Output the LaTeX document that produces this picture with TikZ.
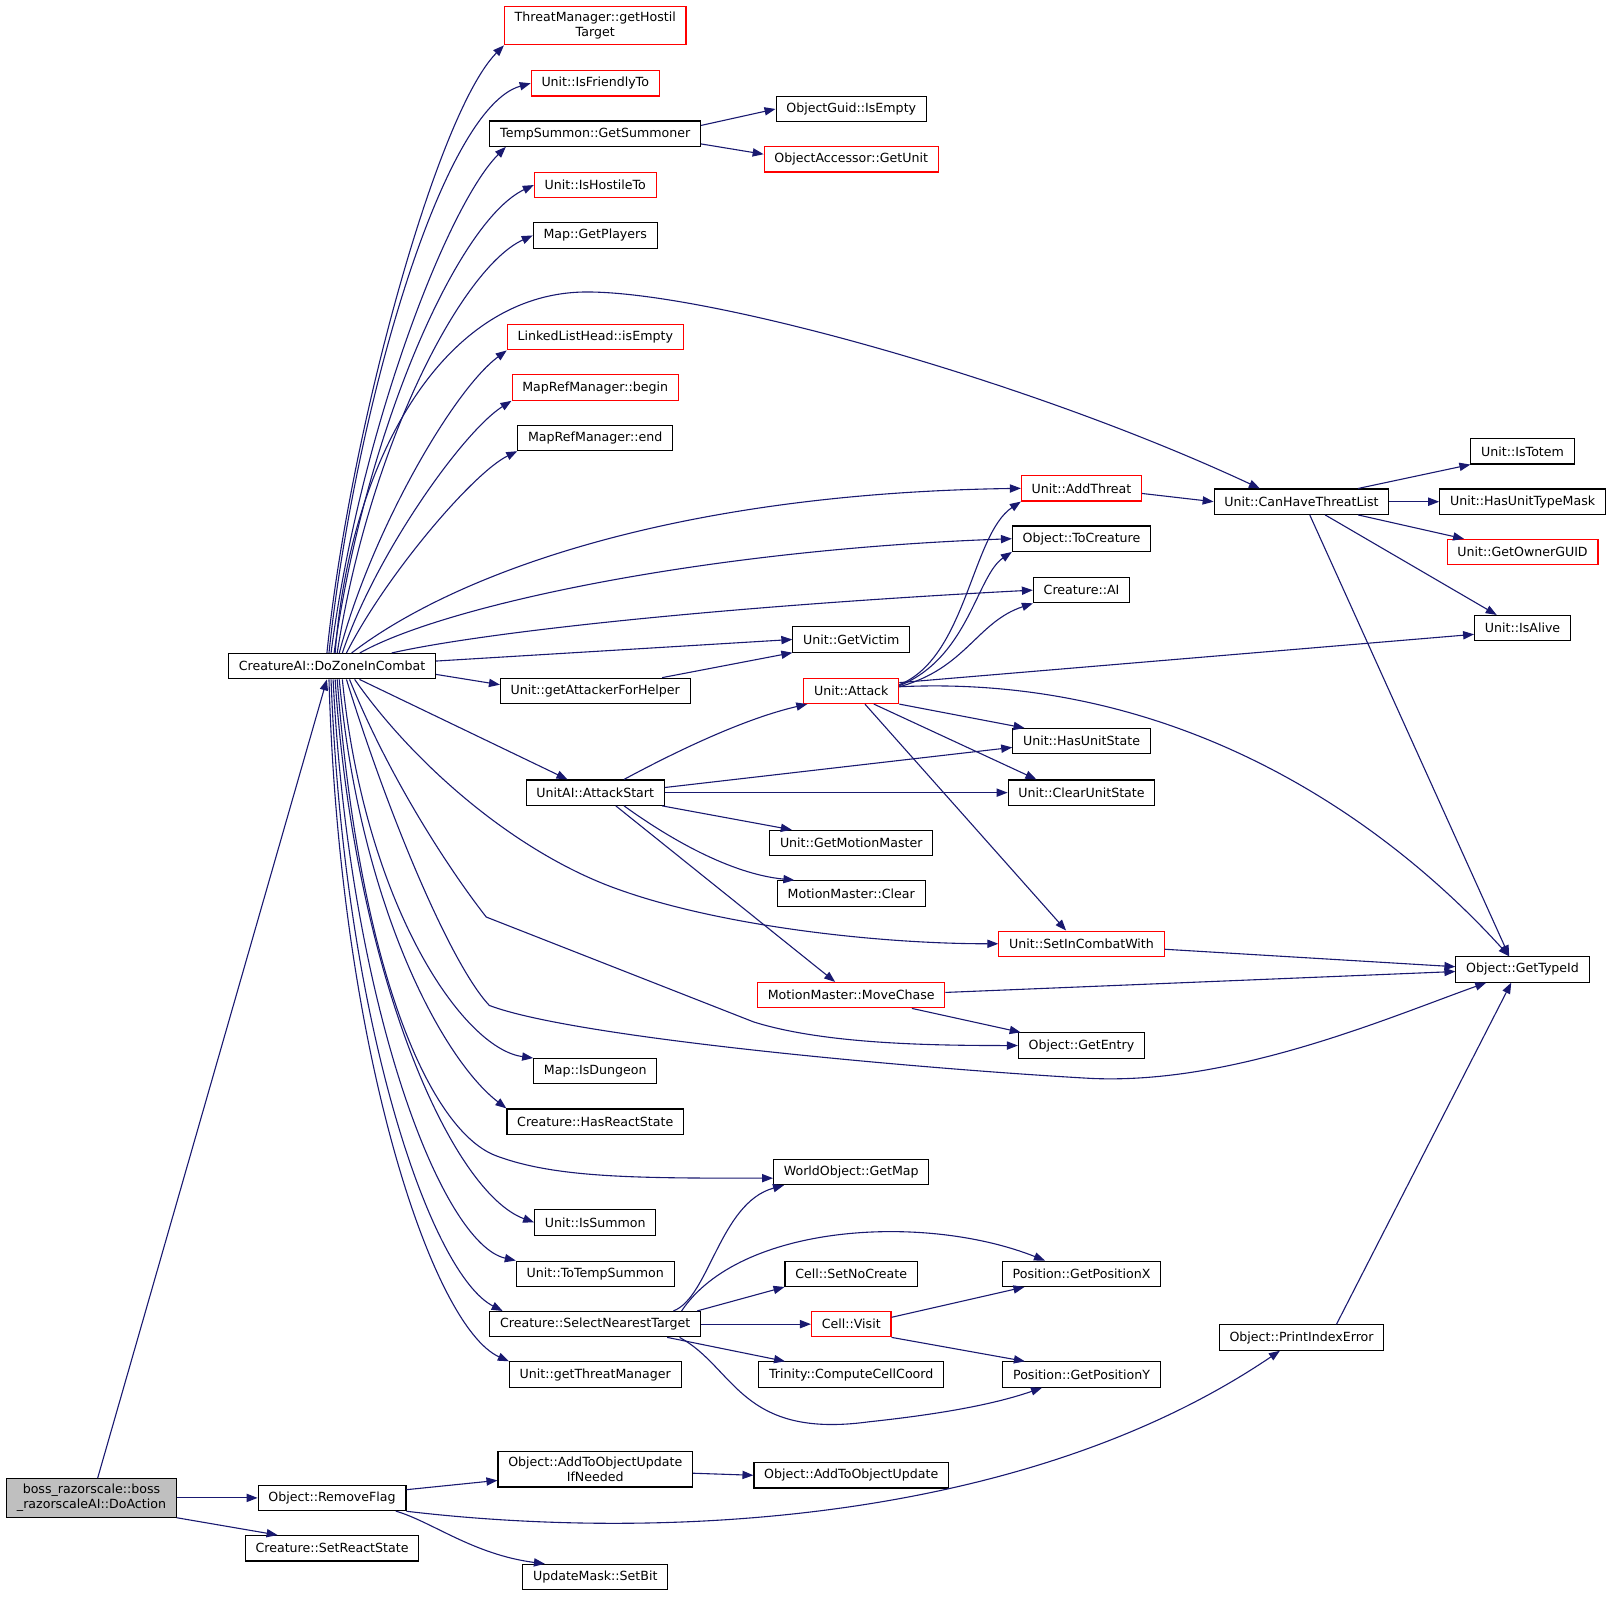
\documentclass[tikz,border=0pt]{standalone}
\usepackage{fontspec}
\setmainfont{DejaVu Sans}
\usetikzlibrary{arrows.meta}
\definecolor{midnight}{HTML}{191970}
\definecolor{rootgray}{HTML}{BFBFBF}

\begin{document}
\begin{tikzpicture}[x=0.75pt, y=-0.75pt,
    fn/.style={draw=black, fill=white, line width=0.8pt, font=\fontsize{9.2}{11}\selectfont,
        minimum height=18.5pt, inner xsep=7.5pt, inner ysep=4pt, align=center},
    fnred/.style={fn, draw=red},
    fnroot/.style={fn, fill=rootgray},
    call/.style={draw=midnight, line width=0.8pt, -{Triangle[length=8pt,width=6pt]}}]

    % Canvas
    \path[fill=white] (0,0) rectangle (1568,1554);

    % Root and first level
    \node[fnroot] (boss) at (89,1457) {boss\_razorscale::boss\\\_razorscaleAI::DoAction};
    \node[fn] (rf) at (323,1457) {Object::RemoveFlag};
    \node[fn] (srs) at (323,1506) {Creature::SetReactState};
    \node[fn] (dz) at (323,648) {CreatureAI::DoZoneInCombat};

    % Second column
    \node[fnred] (ght) at (579,25) {ThreatManager::getHostil\\Target};
    \node[fnred] (ift) at (579,81) {Unit::IsFriendlyTo};
    \node[fn] (gs) at (579,130) {TempSummon::GetSummoner};
    \node[fnred] (iht) at (579,180) {Unit::IsHostileTo};
    \node[fn] (gp) at (579,229) {Map::GetPlayers};
    \node[fnred] (lle) at (579,328) {LinkedListHead::isEmpty};
    \node[fnred] (mrb) at (579,377) {MapRefManager::begin};
    \node[fn] (mre) at (579,426) {MapRefManager::end};
    \node[fn] (gafh) at (579,672) {Unit::getAttackerForHelper};
    \node[fn] (ast) at (579,771) {UnitAI::AttackStart};
    \node[fn] (isd) at (579,1042) {Map::IsDungeon};
    \node[fn] (hrs) at (579,1091) {Creature::HasReactState};
    \node[fn] (ism) at (579,1189) {Unit::IsSummon};
    \node[fn] (tts) at (579,1239) {Unit::ToTempSummon};
    \node[fn] (snt) at (579,1288) {Creature::SelectNearestTarget};
    \node[fn] (gtm) at (579,1337) {Unit::getThreatManager};
    \node[fn] (aou) at (579,1429) {Object::AddToObjectUpdate\\IfNeeded};
    \node[fn] (sb) at (579,1534) {UpdateMask::SetBit};

    % Third column
    \node[fn] (oge) at (828,106) {ObjectGuid::IsEmpty};
    \node[fnred] (ogu) at (828,155) {ObjectAccessor::GetUnit};
    \node[fn] (gv) at (828,622) {Unit::GetVictim};
    \node[fnred] (att) at (828,672) {Unit::Attack};
    \node[fn] (gmm) at (828,820) {Unit::GetMotionMaster};
    \node[fn] (mmc) at (828,869) {MotionMaster::Clear};
    \node[fnred] (mmch) at (828,968) {MotionMaster::MoveChase};
    \node[fn] (wgm) at (828,1140) {WorldObject::GetMap};
    \node[fn] (snc) at (828,1239) {Cell::SetNoCreate};
    \node[fnred] (cv) at (828,1288) {Cell::Visit};
    \node[fn] (tcc) at (828,1337) {Trinity::ComputeCellCoord};
    \node[fn] (aoup) at (828,1435) {Object::AddToObjectUpdate};

    % Fourth column
    \node[fnred] (adt) at (1052,475) {Unit::AddThreat};
    \node[fn] (tc) at (1052,524) {Object::ToCreature};
    \node[fn] (ai) at (1052,574) {Creature::AI};
    \node[fn] (hus) at (1052,721) {Unit::HasUnitState};
    \node[fn] (cus) at (1052,771) {Unit::ClearUnitState};
    \node[fnred] (sicw) at (1052,918) {Unit::SetInCombatWith};
    \node[fn] (ge) at (1052,1017) {Object::GetEntry};
    \node[fn] (gpx) at (1052,1239) {Position::GetPositionX};
    \node[fn] (gpy) at (1052,1337) {Position::GetPositionY};

    % Fifth and last column
    \node[fn] (chtl) at (1266,488) {Unit::CanHaveThreatList};
    \node[fn] (pie) at (1266,1301) {Object::PrintIndexError};
    \node[fn] (ist) at (1481,439) {Unit::IsTotem};
    \node[fn] (hutm) at (1481,488) {Unit::HasUnitTypeMask};
    \node[fnred] (gog) at (1481,537) {Unit::GetOwnerGUID};
    \node[fn] (isa) at (1481,611) {Unit::IsAlive};
    \node[fn] (git) at (1481,943) {Object::GetTypeId};

    % Calls of the root
    \draw[call] ([xshift=4.5pt]boss.north) -- ([xshift=-3.75pt]dz.south);
    \draw[call] (boss.east) -- (rf.west);
    \draw[call] (boss.south east) -- ([xshift=-39.75pt]srs.north);

    % Calls of RemoveFlag
    \draw[call] ([yshift=6pt]rf.east) -- ([yshift=-8.25pt]aou.west);
    \draw[call] ([xshift=46.5pt]rf.south) .. controls (420,1480) and (460,1512) .. ([xshift=-36.75pt]sb.north);
    \draw[call] ([yshift=-9.75pt]rf.east) .. controls (650,1500) and (1000,1480) .. ([xshift=-15.75pt]pie.south);
    \draw[call] ([yshift=-3pt]aou.east) -- (aoup.west);
    \draw[call] ([xshift=25.5pt]pie.north) -- ([xshift=-8.25pt]git.south);

    % Calls of DoZoneInCombat, upwards
    \draw[call] ([xshift=-3.75pt]dz.north) .. controls (340,420) and (425,110) .. (ght.south west);
    \draw[call] ([xshift=-2.25pt]dz.north) .. controls (345,400) and (430,105) .. (ift.west);
    \draw[call] ([xshift=-0.75pt]dz.north) .. controls (350,420) and (435,200) .. ([xshift=12pt]gs.south west);
    \draw[call] ([xshift=1.5pt]dz.north) .. controls (355,420) and (445,215) .. (iht.west);
    \draw[call] ([xshift=3.75pt]dz.north) .. controls (360,430) and (450,260) .. (gp.west);
    \draw[call] ([xshift=5.25pt]dz.north) .. controls (360,520) and (440,380) .. (lle.south west);
    \draw[call] ([xshift=7.5pt]dz.north) .. controls (365,540) and (450,420) .. (mrb.south west);
    \draw[call] ([xshift=10.5pt]dz.north) .. controls (375,560) and (460,460) .. (mre.south west);
    \draw[call] ([xshift=2.25pt]dz.north) .. controls (340,450) and (430,284) .. (571,284)
        .. controls (690,284) and (1000,370) .. ([xshift=33.75pt]chtl.north west);
    \draw[call] ([xshift=14.25pt]dz.north) .. controls (440,560) and (650,480) .. (adt.west);
    \draw[call] ([xshift=20.25pt]dz.north) .. controls (430,590) and (680,535) .. (tc.west);
    \draw[call] ([xshift=43.5pt]dz.north) .. controls (470,615) and (700,590) .. (ai.west);

    % Calls of DoZoneInCombat, sideways
    \draw[call] ([yshift=3.75pt]dz.east) -- (gv.west);
    \draw[call] ([yshift=-6pt]dz.east) -- ([yshift=4.5pt]gafh.west);
    \draw[call] ([xshift=20pt]dz.south) -- ([xshift=-20.25pt]ast.north);

    % Calls of DoZoneInCombat, downwards
    \draw[call] ([xshift=16.5pt]dz.south) .. controls (400,740) and (500,830) .. (604,866)
        .. controls (700,900) and (850,918) .. (sicw.west);
    \draw[call] ([xshift=12.75pt]dz.south) .. controls (380,760) and (440,850) .. (473,892) -- (733,994)
        .. controls (800,1015) and (900,1017) .. (ge.west);
    \draw[call] ([xshift=10.5pt]dz.south) .. controls (380,800) and (440,940) .. (476,978)
        .. controls (560,1010) and (900,1040) .. (1062,1049)
        .. controls (1200,1055) and (1350,990) .. ([xshift=22.5pt]git.south west);
    \draw[call] ([xshift=7.5pt]dz.south) .. controls (355,880) and (450,1020) .. (isd.north west);
    \draw[call] ([xshift=5.25pt]dz.south) .. controls (350,880) and (430,1030) .. (hrs.north west);
    \draw[call] ([xshift=3.75pt]dz.south) .. controls (350,950) and (420,1100) .. (482,1124)
        .. controls (540,1146) and (620,1146) .. ([yshift=-4.5pt]wgm.west);
    \draw[call] ([xshift=2.25pt]dz.south) .. controls (345,950) and (440,1160) .. (ism.west);
    \draw[call] ([xshift=0.75pt]dz.south) .. controls (340,980) and (430,1210) .. (tts.north west);
    \draw[call] ([xshift=-0.75pt]dz.south) .. controls (335,1000) and (420,1240) .. ([xshift=9.75pt]snt.north west);
    \draw[call] ([xshift=-2.25pt]dz.south) .. controls (330,1020) and (420,1290) .. (gtm.north west);

    % Calls of the second column
    \draw[call] ([yshift=6pt]gs.east) -- (oge.west);
    \draw[call] ([yshift=-7.5pt]gs.east) -- ([yshift=3.75pt]ogu.west);
    \draw[call] ([xshift=48.75pt]gafh.north) -- (gv.south west);
    \draw[call] ([xshift=21pt]ast.north) .. controls (650,735) and (720,700) .. ([xshift=3pt]att.south west);
    \draw[call] ([yshift=3.75pt]ast.east) -- ([yshift=-4.5pt]hus.west);
    \draw[call] (ast.east) -- (cus.west);
    \draw[call] ([xshift=48.75pt]ast.south) -- ([xshift=16.5pt]gmm.north west);
    \draw[call] ([xshift=21pt]ast.south) .. controls (650,815) and (710,850) .. ([xshift=12.75pt]mmc.north west);
    \draw[call] ([xshift=15pt]ast.south) -- ([xshift=57pt]mmch.north west);
    \draw[call] ([xshift=57pt]snt.north) .. controls (690,1262) and (700,1170) .. ([xshift=8pt]wgm.south west);
    \draw[call] ([xshift=63pt]snt.north) .. controls (720,1190) and (900,1180) .. ([xshift=31.5pt]gpx.north west);
    \draw[call] ([xshift=-3pt]snt.north east) -- (snc.south west);
    \draw[call] (snt.east) -- (cv.west);
    \draw[call] ([xshift=52.5pt]snt.south) -- ([xshift=19.5pt]tcc.north west);
    \draw[call] ([xshift=61.5pt]snt.south) .. controls (715,1330) and (720,1400) .. (845,1383)
        .. controls (920,1375) and (970,1365) .. ([xshift=29pt]gpy.south west);

    % Calls of the third column
    \draw[call] ([yshift=4.5pt]att.east) .. controls (940,640) and (945,520) .. (adt.south west);
    \draw[call] ([yshift=3.75pt]att.east) .. controls (942,640) and (950,560) .. (tc.south west);
    \draw[call] ([yshift=3pt]att.east) .. controls (940,650) and (950,605) .. (ai.south west);
    \draw[call] ([yshift=6pt]att.east) -- ([yshift=-4.5pt]isa.west);
    \draw[call] ([yshift=3pt]att.east) .. controls (1150,655) and (1350,800) .. ([xshift=-9.75pt]git.north);
    \draw[call] (att.south east) -- ([xshift=9pt]hus.north west);
    \draw[call] ([xshift=16.5pt]att.south) -- ([xshift=21pt]cus.north west);
    \draw[call] ([xshift=10pt]att.south) -- ([xshift=-11.25pt]sicw.north);
    \draw[call] ([yshift=2pt]mmch.east) -- ([yshift=-1.5pt]git.west);
    \draw[call] ([xshift=44.25pt]mmch.south) -- ([xshift=2pt]ge.north west);
    \draw[call] ([yshift=5pt]cv.east) -- ([xshift=16.5pt]gpx.south west);
    \draw[call] (cv.south east) -- ([xshift=16.5pt]gpy.north west);

    % Calls of the fourth and fifth columns
    \draw[call] ([yshift=-3.75pt]adt.east) -- (chtl.west);
    \draw[call] ([yshift=-4pt]sicw.east) -- ([yshift=2pt]git.west);
    \draw[call] ([xshift=41.25pt]chtl.north) -- (ist.south west);
    \draw[call] (chtl.east) -- (hutm.west);
    \draw[call] ([xshift=41.25pt]chtl.south) -- ([xshift=12.75pt]gog.north west);
    \draw[call] ([xshift=17.25pt]chtl.south) -- ([xshift=16.5pt]isa.north west);
    \draw[call] ([xshift=6pt]chtl.south) -- ([xshift=-9.75pt]git.north);
\end{tikzpicture}
\end{document}
